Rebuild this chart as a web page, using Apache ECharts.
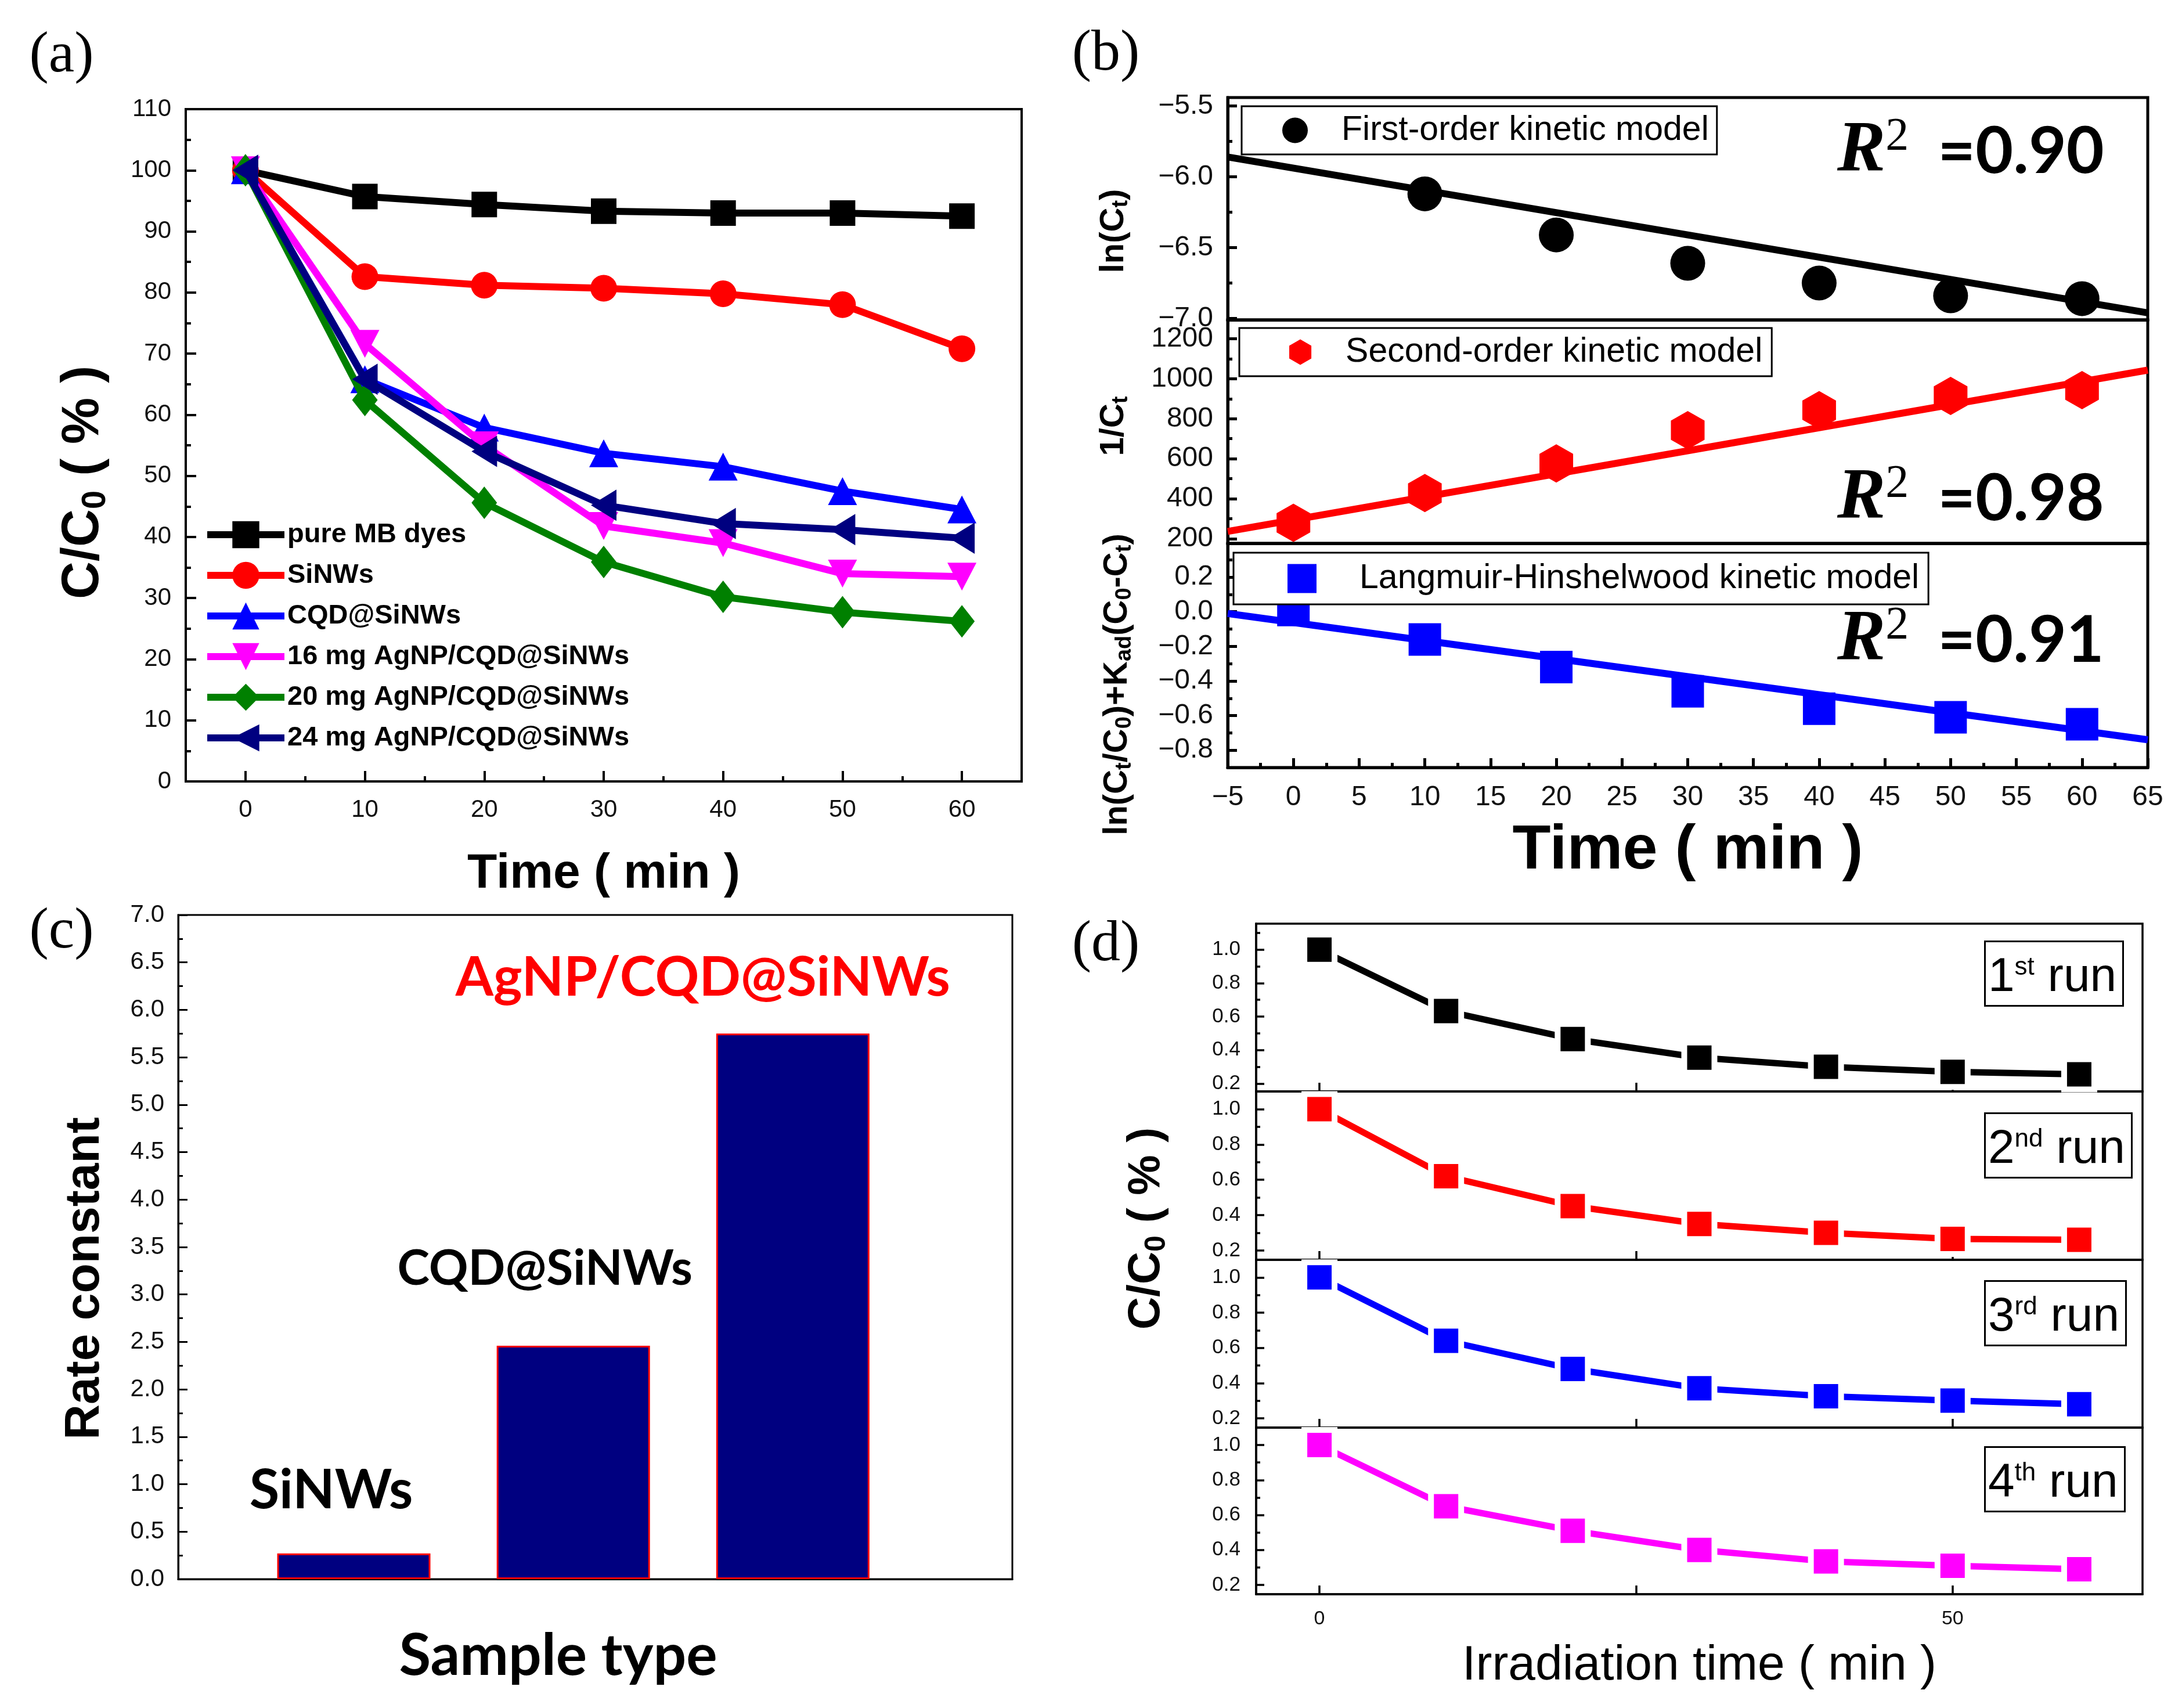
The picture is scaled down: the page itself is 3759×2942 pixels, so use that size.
<!DOCTYPE html>
<html>
<head>
<meta charset="utf-8">
<title>Degradation kinetics panels</title>
<script src="https://cdn.jsdelivr.net/npm/echarts@6/dist/echarts.min.js"></script>
<style>
  html, body { margin: 0; padding: 0; background: #fff; }
  #chart { width: 3759px; height: 2942px; }
</style>
</head>
<body>
<div id="chart"></div>
<script>
// ---------- (a) C/C0 vs time ----------
var timeA = [0, 10, 20, 30, 40, 50, 60];
var namesA = ['pure MB dyes', 'SiNWs', 'CQD@SiNWs', '16 mg AgNP/CQD@SiNWs', '20 mg AgNP/CQD@SiNWs', '24 mg AgNP/CQD@SiNWs'];
var pureMB = [100, 95.7, 94.4, 93.3, 93.0, 93.0, 92.5];
var sinws  = [100, 82.6, 81.2, 80.7, 79.8, 78.0, 70.8];
var cqd    = [100, 65.8, 57.9, 53.7, 51.5, 47.5, 44.5];
var ag16   = [100, 71.6, 55.0, 41.8, 39.0, 34.0, 33.5];
var ag20   = [100, 62.4, 45.6, 35.9, 30.2, 27.7, 26.2];
var ag24   = [100, 65.8, 54.0, 45.2, 42.2, 41.2, 39.8];
var aXTicks = [0, 10, 20, 30, 40, 50, 60];
var aXMinor = [5, 15, 25, 35, 45, 55];
var aYTicks = [0, 10, 20, 30, 40, 50, 60, 70, 80, 90, 100, 110];
var aYMinor = [5, 15, 25, 35, 45, 55, 65, 75, 85, 95, 105];

// ---------- (b) kinetic fits ----------
var timeB = [0, 10, 20, 30, 40, 50, 60];
var lnCt  = [-5.72, -6.12, -6.41, -6.61, -6.75, -6.84, -6.86];
var invCt = [280, 429, 577, 743, 843, 914, 943];
var lhVal = [0.01, -0.16, -0.32, -0.46, -0.56, -0.61, -0.65];
var fitX   = [-5, 65];
var fitLn  = [-5.86, -6.96];
var fitInv = [237, 1043];
var fitLh  = [-0.01, -0.74];
var modelNames = ['First-order kinetic model', 'Second-order kinetic model', 'Langmuir-Hinshelwood kinetic model'];
var r2Values = ['0.90', '0.98', '0.91'];
var bXTicks = [-5, 0, 5, 10, 15, 20, 25, 30, 35, 40, 45, 50, 55, 60, 65];
var bXMinor = [-2.5, 2.5, 7.5, 12.5, 17.5, 22.5, 27.5, 32.5, 37.5, 42.5, 47.5, 52.5, 57.5, 62.5];
var bTopTicks = [-7.0, -6.5, -6.0, -5.5];
var bTopMinor = [-6.75, -6.25, -5.75];
var bMidTicks = [200, 400, 600, 800, 1000, 1200];
var bMidMinor = [300, 500, 700, 900, 1100];
var bBotTicks = [-0.8, -0.6, -0.4, -0.2, 0.0, 0.2];
var bBotMinor = [-0.7, -0.5, -0.3, -0.1, 0.1, 0.3];

// ---------- (c) rate constants ----------
var samples = ['SiNWs', 'CQD@SiNWs', 'AgNP/CQD@SiNWs'];
var rateK = [0.27, 2.46, 5.75];
var cYTicks = [0, 0.5, 1.0, 1.5, 2.0, 2.5, 3.0, 3.5, 4.0, 4.5, 5.0, 5.5, 6.0, 6.5, 7.0];
var cYMinor = [0.25, 0.75, 1.25, 1.75, 2.25, 2.75, 3.25, 3.75, 4.25, 4.75, 5.25, 5.75, 6.25, 6.75];

// ---------- (d) recycling runs ----------
var timeD = [0, 10, 20, 30, 40, 50, 60];
var run1 = [1.0, 0.633, 0.466, 0.355, 0.30, 0.27, 0.255];
var run2 = [1.0, 0.62, 0.451, 0.35, 0.30, 0.265, 0.26];
var run3 = [1.0, 0.64, 0.48, 0.37, 0.325, 0.30, 0.28];
var run4 = [1.0, 0.65, 0.51, 0.40, 0.335, 0.31, 0.29];
var runOrd = [['1', 'st'], ['2', 'nd'], ['3', 'rd'], ['4', 'th']];
var dYTicks = [0.2, 0.4, 0.6, 0.8, 1.0];
var dYMinor = [0.3, 0.5, 0.7, 0.9, 1.1];
var dXTicks = [0, 25, 50];
var dXLabels = [0, 50];

var SANS = '"Liberation Sans", Arial, sans-serif';
var SERIF = '"Liberation Serif", "Times New Roman", serif';
var CAL = 'Lato, "Open Sans", sans-serif';
var MINUS = '\u2212';

var grids = [], xAxes = [], yAxes = [], series = [];

function addGrid(l, t, r, b, bw) {
  grids.push({ left: l, top: t, width: r - l, height: b - t, show: true,
    borderColor: '#000', borderWidth: bw, containLabel: false, outerBoundsMode: 'none' });
  return grids.length - 1;
}

// main axis + optional overlay axis that only draws the short minor ticks
function addAxis(list, c) {
  var pos = list === xAxes ? 'bottom' : 'left';
  var ax = {
    type: 'value', gridIndex: c.grid, min: c.min, max: c.max, position: pos,
    splitLine: { show: false },
    axisLine: { show: true, onZero: false, lineStyle: { color: '#000', width: c.lw } },
    axisTick: { show: !!c.ticks, inside: true, length: c.len || 16, lineStyle: { color: '#000', width: c.lw } },
    axisLabel: { show: !!c.labels, color: '#111', fontFamily: SANS, fontSize: c.fs || 40, margin: c.margin || 25, formatter: c.fmt }
  };
  if (c.ticks) ax.axisTick.customValues = c.ticks;
  if (c.labels) ax.axisLabel.customValues = c.labels;
  if (c.name) {
    ax.name = c.name; ax.nameLocation = 'middle'; ax.nameGap = c.nameGap; ax.nameTextStyle = c.nameStyle;
  }
  list.push(ax);
  var idx = list.length - 1;
  if (c.minor) {
    list.push({ type: 'value', gridIndex: c.grid, min: c.min, max: c.max, position: pos,
      splitLine: { show: false }, axisLine: { show: false, onZero: false }, axisLabel: { show: false },
      axisTick: { show: true, inside: true, length: c.mlen || 8, customValues: c.minor, lineStyle: { color: '#000', width: c.lw } } });
  }
  return idx;
}

function fmt1(v) { return v.toFixed(1).replace('-', MINUS); }
function fmtInt(v) { return String(v).replace('-', MINUS); }

// ---------------- (a) ----------------
var gA = addGrid(320, 188, 1760, 1346, 4);
var axA = addAxis(xAxes, { grid: gA, min: -5, max: 65, lw: 4, ticks: aXTicks, labels: aXTicks, minor: aXMinor,
  len: 18, mlen: 9, fs: 42, margin: 28, fmt: fmtInt,
  name: 'Time ( min )', nameGap: 118, nameStyle: { fontFamily: SANS, fontWeight: 'bold', fontSize: 84, lineHeight: 84, color: '#000' } });
var ayA = addAxis(yAxes, { grid: gA, min: 0, max: 110, lw: 4, ticks: aYTicks, labels: aYTicks, minor: aYMinor,
  len: 18, mlen: 9, fs: 42, margin: 25, fmt: fmtInt });

var valsA = [pureMB, sinws, cqd, ag16, ag20, ag24];
var colorsA = ['#000000', '#ff0000', '#0000ff', '#ff00ff', '#008000', '#000080'];
var symbolsA = ['rect', 'circle', 'triangle', 'path://M0,0L10,0L5,10Z', 'path://M5,0L10,6L5,12L0,6Z', 'path://M10,0L0,5L10,10Z'];
var symSizeA = [44, 46, [50, 48], [50, 48], [44, 56], [44, 54]];
valsA.forEach(function (vals, i) {
  series.push({
    type: 'line', name: namesA[i], xAxisIndex: axA, yAxisIndex: ayA,
    data: timeA.map(function (t, k) { return [t, vals[k]]; }),
    symbol: symbolsA[i], symbolSize: symSizeA[i],
    itemStyle: { color: colorsA[i] }, lineStyle: { color: colorsA[i], width: 12 }, z: 2 + i
  });
});

// ---------------- (b) ----------------
var bL = 2115, bR = 3700;
var gB1 = addGrid(bL, 168, bR, 551, 5);
var gB2 = addGrid(bL, 551, bR, 936, 5);
var gB3 = addGrid(bL, 936, bR, 1322, 5);
var axB1 = addAxis(xAxes, { grid: gB1, min: -5, max: 65, lw: 5 });
var axB2 = addAxis(xAxes, { grid: gB2, min: -5, max: 65, lw: 5 });
var axB3 = addAxis(xAxes, { grid: gB3, min: -5, max: 65, lw: 5, ticks: bXTicks, labels: bXTicks, minor: bXMinor,
  len: 16, mlen: 8, fs: 48, margin: 28, fmt: fmtInt,
  name: 'Time ( min )', nameGap: 90, nameStyle: { fontFamily: SANS, fontWeight: 'bold', fontSize: 108, lineHeight: 108, color: '#000' } });
var ayB1 = addAxis(yAxes, { grid: gB1, min: -7.01, max: -5.44, lw: 5, ticks: bTopTicks, labels: bTopTicks, minor: bTopMinor,
  len: 16, mlen: 8, fs: 48, margin: 25, fmt: fmt1 });
var ayB2 = addAxis(yAxes, { grid: gB2, min: 177, max: 1294, lw: 5, ticks: bMidTicks, labels: bMidTicks, minor: bMidMinor,
  len: 16, mlen: 8, fs: 48, margin: 25, fmt: fmtInt });
var ayB3 = addAxis(yAxes, { grid: gB3, min: -0.9, max: 0.395, lw: 5, ticks: bBotTicks, labels: bBotTicks, minor: bBotMinor,
  len: 16, mlen: 8, fs: 48, margin: 25, fmt: fmt1 });

var hexPath = 'path://M5,0L9.33,2.5L9.33,7.5L5,10L0.67,7.5L0.67,2.5Z';
var squarePath = 'path://M0,0L10,0L10,10L0,10Z';
var bSets = [
  { x: axB1, y: ayB1, pts: lnCt, fit: fitLn, color: '#000000', symbol: 'circle', size: 60 },
  { x: axB2, y: ayB2, pts: invCt, fit: fitInv, color: '#ff0000', symbol: hexPath, size: [58, 66] },
  { x: axB3, y: ayB3, pts: lhVal, fit: fitLh, color: '#0000ff', symbol: 'rect', size: 56 }
];
bSets.forEach(function (s, i) {
  series.push({
    type: 'line', name: 'fit ' + (i + 1), xAxisIndex: s.x, yAxisIndex: s.y,
    data: fitX.map(function (x, k) { return [x, s.fit[k]]; }),
    symbol: 'none', lineStyle: { color: s.color, width: 12 }, z: 2
  });
  series.push({
    type: 'scatter', name: modelNames[i], xAxisIndex: s.x, yAxisIndex: s.y,
    data: timeB.map(function (t, k) { return [t, s.pts[k]]; }),
    symbol: s.symbol, symbolSize: s.size, itemStyle: { color: s.color, opacity: 1 }, z: 3
  });
});

// ---------------- (c) ----------------
var gC = addGrid(307, 1576, 1744, 2720, 3);
var axC = addAxis(xAxes, { grid: gC, min: 0.2, max: 4.0, lw: 3,
  name: 'Sample type', nameGap: 83,
  nameStyle: { fontFamily: CAL, fontWeight: 'bold', fontSize: 100, lineHeight: 100, color: '#000', padding: [0, 128, 0, 0] } });
var ayC = addAxis(yAxes, { grid: gC, min: 0, max: 7, lw: 3, ticks: cYTicks, labels: cYTicks, minor: cYMinor,
  len: 16, mlen: 8, fs: 42, margin: 24, fmt: function (v) { return v.toFixed(1); } });
var barLabelDx = [-39, -49, -155];
var barLabelLift = [61, 90, 49];
var barLabelSize = [94, 84, 94];
var barLabelColor = ['#000000', '#000000', '#ff0000'];
series.push({
  type: 'bar', name: 'rate constant', xAxisIndex: axC, yAxisIndex: ayC, barWidth: 264,
  itemStyle: { color: '#000080', borderColor: '#ff0000', borderWidth: 3 },
  data: rateK.map(function (v, i) {
    return {
      value: [i + 1, v],
      label: { show: true, position: 'top', formatter: samples[i], distance: barLabelLift[i], offset: [barLabelDx[i], 0],
        color: barLabelColor[i], fontFamily: CAL, fontWeight: 'bold', fontSize: barLabelSize[i], lineHeight: barLabelSize[i] }
    };
  })
});

// ---------------- (d) ----------------
var dEdges = [1591, 1880, 2170, 2459, 2746];
var dRanges = [[0.153, 1.155], [0.147, 1.10], [0.147, 1.10], [0.147, 1.10]];
var runs = [run1, run2, run3, run4];
var runColors = ['#000000', '#ff0000', '#0000ff', '#ff00ff'];
runs.forEach(function (vals, i) {
  var g = addGrid(2164, dEdges[i], 3691, dEdges[i + 1], 3.5);
  var last = i === runs.length - 1;
  var ax = addAxis(xAxes, last ? { grid: g, min: -5, max: 65, lw: 3.5, ticks: dXTicks, labels: dXLabels, len: 15, fs: 34, margin: 26, fmt: fmtInt,
      name: 'Irradiation time ( min )', nameGap: 82, nameStyle: { fontFamily: SANS, fontSize: 84, lineHeight: 84, color: '#000' } }
    : { grid: g, min: -5, max: 65, lw: 3.5, ticks: dXTicks, len: 15 });
  var ay = addAxis(yAxes, { grid: g, min: dRanges[i][0], max: dRanges[i][1], lw: 3.5, ticks: dYTicks, labels: dYTicks, minor: dYMinor,
    len: 14, mlen: 7, fs: 35, margin: 27, fmt: function (v) { return v.toFixed(1); } });
  var pts = timeD.map(function (t, k) { return [t, vals[k]]; });
  // white halo squares give the gap between line and symbol
  series.push({ type: 'line', name: 'run ' + (i + 1), xAxisIndex: ax, yAxisIndex: ay, data: pts,
    symbol: 'rect', symbolSize: 62, itemStyle: { color: '#ffffff' }, lineStyle: { color: runColors[i], width: 11 }, z: 2 });
  series.push({ type: 'scatter', name: 'run pts ' + (i + 1), xAxisIndex: ax, yAxisIndex: ay, data: pts,
    symbol: 'rect', symbolSize: 42, itemStyle: { color: runColors[i], opacity: 1 }, z: 3 });
});

// ---------------- legends ----------------
function boxLegend(name, icon, left, top, pad, size, textPad) {
  return { data: [{ name: name, icon: icon }], orient: 'horizontal', selectedMode: false, left: left, top: top,
    padding: pad, itemWidth: size, itemHeight: size, backgroundColor: '#fff', borderColor: '#000', borderWidth: 3,
    textStyle: { fontFamily: SANS, fontSize: 59, color: '#000', lineHeight: size, padding: [0, 0, 0, textPad] } };
}
var legends = [
  { data: namesA, orient: 'vertical', left: 351, top: 892, padding: 0, itemWidth: 133, itemHeight: 58, itemGap: 12, selectedMode: false,
    lineStyle: { width: 12 },
    textStyle: { fontFamily: SANS, fontWeight: 'bold', fontSize: 47, color: '#000', lineHeight: 58 } },
  boxLegend(modelNames[0], 'circle', 2139, 183, [12, 14, 12, 70], 44, 53),
  boxLegend(modelNames[1], hexPath, 2135, 565, [12, 16, 12, 86], 44, 51),
  boxLegend(modelNames[2], squarePath, 2125, 952, [15, 16, 15, 93], 50, 69)
];

// ---------------- run boxes (d) ----------------
var runRich = {
  n: { fontFamily: SANS, fontWeight: 'normal', fontSize: 82, color: '#000', verticalAlign: 'bottom', lineHeight: 80 },
  s: { fontFamily: SANS, fontWeight: 'normal', fontSize: 44, color: '#000', verticalAlign: 'top', lineHeight: 20 },
  t: { fontFamily: SANS, fontWeight: 'normal', fontSize: 82, color: '#000', verticalAlign: 'bottom', lineHeight: 80 }
};
var runBoxTop = [1623, 1919, 2208, 2494];
var titles = runOrd.map(function (r, i) {
  return { text: '{n|' + r[0] + '}{s|' + r[1] + '}{t| run}', left: 3419, top: runBoxTop[i],
    padding: [22, 12, 8, 6], borderColor: '#000', borderWidth: 3, backgroundColor: '#fff',
    textStyle: { fontWeight: 'normal', rich: runRich } };
});

// ---------------- free text ----------------
function panelLabel(txt, x, y) {
  return { type: 'text', x: x, y: y, z: 10,
    style: { text: txt, fontFamily: SERIF, fontSize: 100, fill: '#000', align: 'center', verticalAlign: 'middle' } };
}
function rotTitle(txt, x, y, size, subSize) {
  return { type: 'text', x: x, y: y, rotation: Math.PI / 2, z: 10,
    style: { text: txt, fontFamily: SANS, fontWeight: 'bold', fontSize: size, lineHeight: size * 1.1, fill: '#000',
      align: 'center', verticalAlign: 'middle',
      rich: { s: { fontFamily: SANS, fontWeight: 'bold', fontSize: subSize, lineHeight: subSize * 0.7, verticalAlign: 'bottom', fill: '#000' } } } };
}
var r2Tops = [197, 795, 1039];
var r2Rich = {
  r: { fontFamily: SERIF, fontStyle: 'italic', fontWeight: 'bold', fontSize: 125, lineHeight: 130, fill: '#000' },
  s: { fontFamily: SERIF, fontSize: 80, lineHeight: 80, verticalAlign: 'top', fill: '#000' },
  v: { fontFamily: CAL, fontWeight: 'bold', fontSize: 112, lineHeight: 130, fill: '#000', padding: [0, 0, 0, 50] }
};
var graphics = [
  panelLabel('(a)', 106, 97), panelLabel('(b)', 1905, 94), panelLabel('(c)', 106, 1606), panelLabel('(d)', 1905, 1628),
  rotTitle('C/C{s|0} ( % )', 144, 831, 90, 58),
  rotTitle('ln(C{s|t})', 1919, 398, 58, 38),
  rotTitle('1/C{s|t}', 1919, 734, 58, 38),
  rotTitle('ln(C{s|t}/C{s|0})+K{s|ad}(C{s|0}-C{s|t})', 1925, 1179, 58, 38),
  rotTitle('Rate constant', 147, 2202, 84, 50),
  rotTitle('C/C{s|0} ( % )', 1975, 2116, 78, 50)
];
r2Values.forEach(function (v, i) {
  graphics.push({ type: 'text', x: 3165, y: r2Tops[i], z: 10,
    style: { text: '{r|R}{s|2}{v|=' + v + '}', align: 'left', verticalAlign: 'top', rich: r2Rich } });
});

var myChart = echarts.init(document.getElementById('chart'), null, { renderer: 'canvas' });
myChart.setOption({
  animation: false,
  backgroundColor: '#ffffff',
  title: titles,
  legend: legends,
  grid: grids,
  xAxis: xAxes,
  yAxis: yAxes,
  series: series,
  graphic: graphics
});
</script>
</body>
</html>
